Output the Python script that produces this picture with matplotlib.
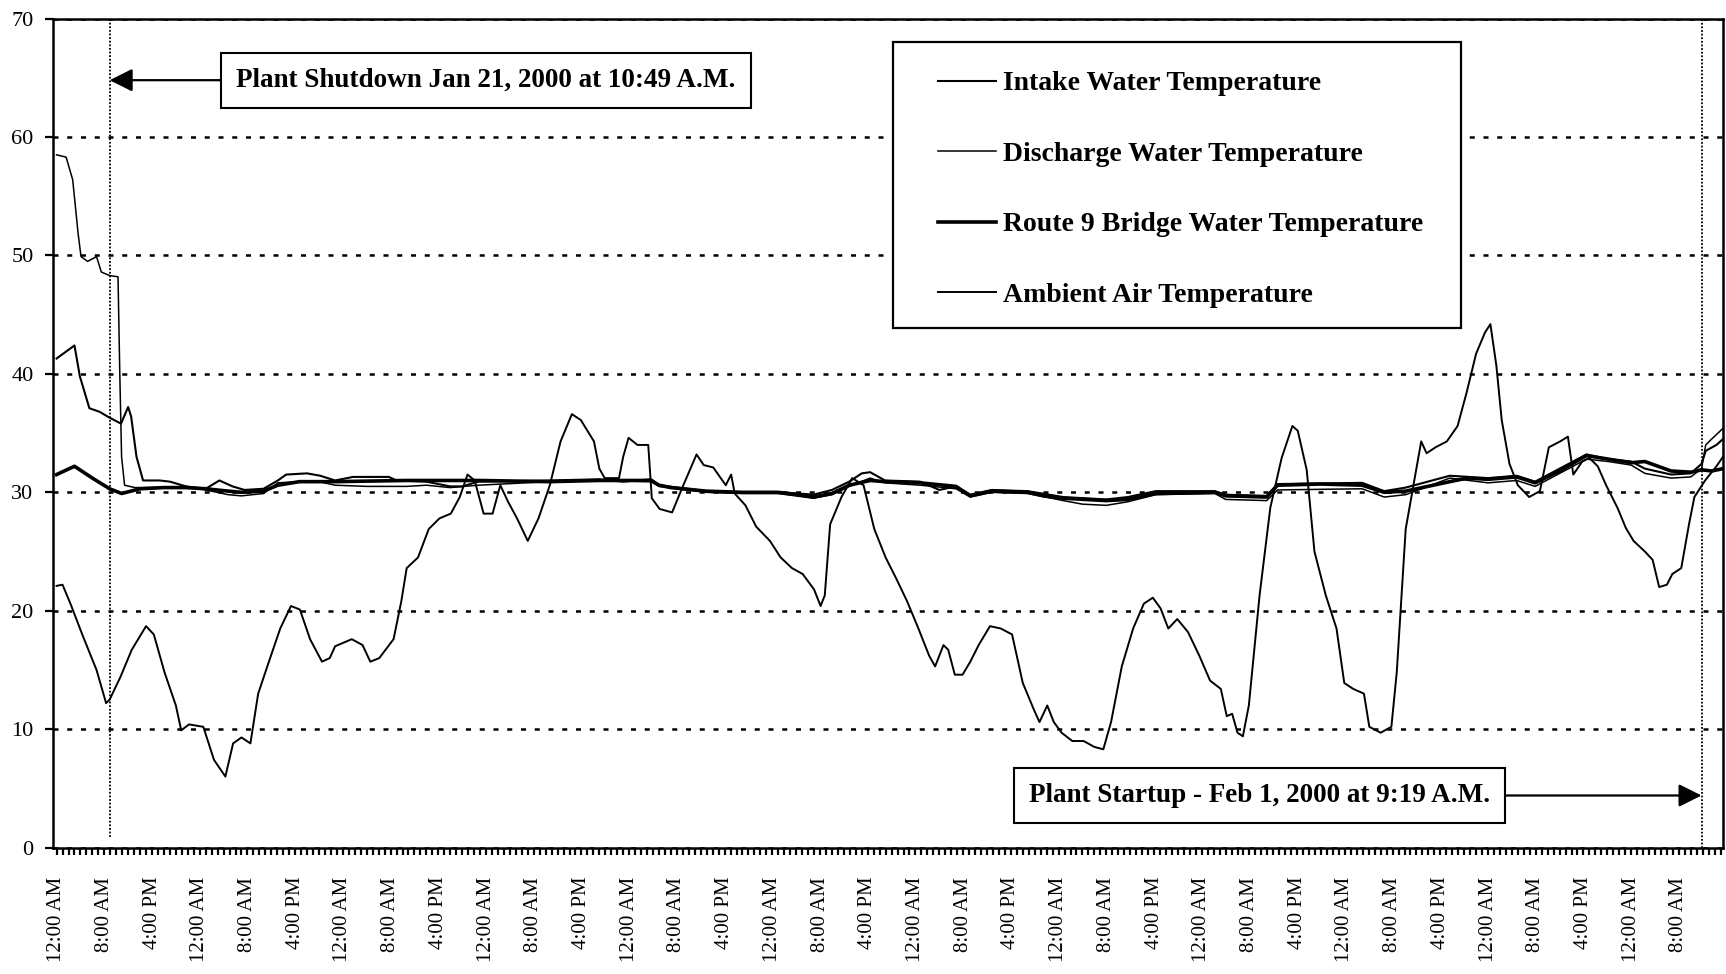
import matplotlib
matplotlib.use("Agg")
import matplotlib.pyplot as plt
from matplotlib.ticker import MultipleLocator
from matplotlib.patches import Rectangle

plt.rcParams['font.family'] = ['Liberation Serif', 'DejaVu Serif']

# hours since 12:00 AM Jan 21, 2000 and temperatures
intake_h = [0, 3.0, 3.9, 5.5, 7.2, 8.9, 10.8, 12.0, 12.5, 13.4,
            14.5, 17.3, 19, 21.7, 25, 27.3, 29.5, 31.5, 34.7, 37.1,
            38.5, 42, 44.2, 46.7, 49.7, 55.7, 57, 62, 66, 68,
            70.7, 82.6, 91, 95, 99.7, 101, 108.9, 114.9, 120.9, 124.5,
            126.9, 130, 132.9, 135, 136.4, 138.9, 144.8, 148, 150.8, 153.2,
            156.8, 162.8, 168.8, 176, 179.6, 184.3, 194.2, 196, 202.9, 204.7,
            218.9, 222.6, 226.2, 233.6, 240, 244.8, 247.9, 256.5, 260.2, 264,
            266.3, 270.7, 274, 275.8, 276.5, 278.3, 279.4]
intake_t = [41.3, 42.4, 39.8, 37.1, 36.8, 36.3, 35.8, 37.2, 36.4, 33.0,
            31.0, 31.0, 30.9, 30.5, 30.3, 31.0, 30.5, 30.2, 30.3, 31.0,
            31.5, 31.6, 31.4, 31.0, 31.3, 31.3, 31.0, 30.9, 30.5, 30.5,
            30.9, 31.0, 31.1, 30.9, 31.1, 30.6, 30.1, 30.0, 30.0, 29.9,
            29.8, 30.2, 30.9, 31.6, 31.7, 31.0, 30.9, 30.2, 30.5, 29.8,
            30.2, 30.1, 29.6, 29.4, 29.6, 30.1, 30.1, 29.8, 29.7, 30.7,
            30.8, 30.1, 30.4, 31.4, 31.2, 31.4, 30.9, 33.2, 32.8, 32.6,
            32.0, 31.5, 31.6, 32.4, 33.5, 34.0, 34.5]

discharge_h = [0, 1.6, 2.7, 3.6, 4.1, 5.2, 6.7, 7.5, 8.9, 10.3,
               10.6, 10.9, 11.4, 13.1, 18, 21.6, 25, 28.8, 31, 34.7,
               37.1, 40.7, 44, 46.7, 52, 58.7, 62, 66, 70.7, 82.6,
               91, 99.7, 101, 108.9, 114.9, 120.9, 126.9, 130, 132.9, 136.4,
               138.9, 144.8, 150.8, 153.2, 156.8, 162.8, 168.8, 172, 176, 179.6,
               184.3, 194.2, 196, 202.9, 204.7, 218.9, 222.6, 226.2, 233.6, 240,
               244.8, 247.9, 256.5, 260.2, 264, 266.3, 270.7, 274, 275.8, 276.5,
               277.5, 279.4]
discharge_t = [58.5, 58.3, 56.4, 51.9, 49.9, 49.5, 49.9, 48.6, 48.3, 48.2,
               40.0, 33.0, 30.6, 30.4, 30.4, 30.5, 30.2, 29.8, 29.7, 29.9,
               30.8, 30.9, 30.9, 30.6, 30.5, 30.5, 30.6, 30.4, 30.6, 30.9,
               31.0, 30.9, 30.5, 30.0, 29.9, 29.9, 29.5, 29.8, 30.5, 31.2,
               30.8, 30.6, 30.3, 29.6, 30.0, 29.9, 29.3, 29.0, 28.9, 29.2,
               29.8, 29.9, 29.4, 29.3, 30.2, 30.3, 29.6, 29.8, 31.2, 30.8,
               31.0, 30.5, 32.8, 32.6, 32.3, 31.6, 31.2, 31.3, 32.0, 34.0,
               34.5, 35.4]

route9_h = [0, 3.0, 6.0, 8.9, 10.9, 14, 18, 21.6, 25, 28.8,
            31, 34.7, 37.1, 40.7, 46.7, 58.7, 70.7, 82.6, 91, 99.7,
            101, 103, 108.9, 114.9, 120.9, 124.5, 126.9, 130, 132.9, 136.4,
            138.9, 144.8, 150.8, 153.2, 156.8, 162.8, 165.5, 168.8, 176, 179.6,
            184.3, 194.2, 196, 202.9, 204.7, 212, 218.9, 222.6, 226.2, 233.6,
            236.5, 240, 244.8, 247.9, 252, 256.5, 260.2, 264, 266.3, 270.7,
            274, 275.8, 277.5, 279.4]
route9_t = [31.5, 32.2, 31.2, 30.3, 29.9, 30.3, 30.4, 30.4, 30.3, 30.1,
            30.0, 30.1, 30.6, 30.9, 30.9, 31.0, 31.0, 30.9, 31.0, 31.0,
            30.6, 30.4, 30.1, 30.0, 30.0, 29.8, 29.6, 29.9, 30.6, 31.0,
            30.9, 30.8, 30.5, 29.7, 30.1, 30.0, 29.7, 29.5, 29.3, 29.4,
            29.9, 30.0, 29.7, 29.6, 30.6, 30.7, 30.6, 30.0, 30.1, 30.9,
            31.2, 31.1, 31.3, 30.8, 31.8, 33.1, 32.8, 32.5, 32.6, 31.8,
            31.7, 31.9, 31.8, 32.0]

ambient_h = [0, 1.0, 2.4, 4.3, 6.7, 8.3, 8.9, 10.7, 12.6, 15.0,
             16.3, 18.1, 20.0, 20.9, 22.2, 24.6, 26.4, 28.3, 29.6, 31.0,
             32.5, 33.8, 35.6, 37.5, 39.3, 40.8, 42.5, 44.5, 45.8, 46.7,
             49.5, 51.3, 52.6, 54.1, 56.5, 57.8, 58.7, 60.6, 62.4, 64.2,
             66.1, 67.6, 68.9, 70.1, 71.6, 73.1, 74.4, 75.7, 77.2, 79.0,
             80.8, 82.7, 84.5, 86.4, 87.9, 90.1, 91.0, 91.9, 94.3, 95.0,
             95.9, 97.4, 99.2, 99.8, 101.1, 103.2, 105.0, 107.3, 108.5, 110.1,
             112.2, 113.1, 113.7, 115.5, 117.3, 119.6, 121.4, 123.3, 125.1, 127.0,
             128.1, 128.8, 129.7, 131.6, 133.4, 135.3, 137.1, 139.0, 140.8, 142.6,
             144.5, 146.3, 147.3, 148.7, 149.5, 150.6, 151.9, 153.2, 154.6, 156.5,
             158.3, 160.2, 162.0, 163.9, 164.8, 166.1, 167.2, 168.5, 170.3, 172.2,
             174.0, 175.5, 176.8, 178.6, 180.5, 182.3, 183.8, 185.1, 186.4, 187.9,
             189.7, 191.6, 193.4, 195.2, 196.2, 197.1, 198.0, 198.9, 199.9, 201.7,
             203.5, 205.4, 207.2, 208.1, 209.6, 210.9, 212.8, 214.6, 215.9, 217.4,
             219.2, 220.1, 222.0, 223.8, 224.7, 226.2, 227.5, 228.8, 229.7, 231.2,
             233.1, 234.9, 236.4, 238.0, 239.5, 240.4, 241.4, 242.3, 243.6, 245.0,
             246.9, 248.7, 250.2, 252.1, 253.4, 254.3, 255.8, 257.0, 258.4, 259.8,
             261.7, 263.1, 264.4, 266.3, 267.6, 268.7, 270.0, 270.9, 272.4, 273.7,
             274.6, 276.4, 278.3, 279.4]
ambient_t = [22.1, 22.2, 20.5, 18.0, 15.0, 12.2, 12.5, 14.4, 16.7, 18.7,
             18.0, 14.8, 12.0, 9.9, 10.4, 10.2, 7.4, 6.0, 8.8, 9.3,
             8.8, 13.0, 15.7, 18.5, 20.4, 20.1, 17.6, 15.7, 16.0, 17.0,
             17.6, 17.1, 15.7, 16.0, 17.6, 20.8, 23.6, 24.5, 26.9, 27.8,
             28.2, 29.6, 31.5, 31.0, 28.2, 28.2, 30.6, 29.2, 27.8, 25.9,
             27.8, 30.6, 34.3, 36.6, 36.1, 34.3, 32.0, 31.2, 31.2, 33.0,
             34.6, 34.0, 34.0, 29.5, 28.6, 28.3, 30.5, 33.2, 32.3, 32.1,
             30.6, 31.5, 29.9, 28.9, 27.1, 25.9, 24.5, 23.6, 23.1, 21.8,
             20.4, 21.3, 27.3, 29.6, 31.2, 30.6, 26.9, 24.5, 22.7, 20.8,
             18.5, 16.2, 15.3, 17.1, 16.7, 14.6, 14.6, 15.7, 17.1, 18.7,
             18.5, 18.0, 13.9, 11.6, 10.6, 12.0, 10.6, 9.7, 9.0, 9.0,
             8.5, 8.3, 10.6, 15.3, 18.5, 20.6, 21.1, 20.2, 18.5, 19.3,
             18.2, 16.2, 14.1, 13.4, 11.1, 11.3, 9.7, 9.4, 12.0, 21.3,
             28.7, 32.9, 35.6, 35.2, 31.9, 25.0, 21.3, 18.5, 13.9, 13.4,
             13.0, 10.2, 9.7, 10.2, 14.8, 26.9, 30.6, 34.3, 33.3, 33.8,
             34.3, 35.6, 38.4, 41.7, 43.5, 44.2, 40.7, 36.1, 32.4, 30.6,
             29.6, 30.1, 33.8, 34.3, 34.7, 31.5, 32.6, 32.9, 32.2, 30.6,
             28.7, 27.0, 25.9, 25.0, 24.3, 22.0, 22.2, 23.1, 23.6, 27.3,
             29.6, 31.0, 32.2, 33.0]

tick_cycle = ["12:00 AM", "8:00 AM", "4:00 PM"]
tick_hours = list(range(0, 273, 8))
tick_labels = [tick_cycle[i % 3] for i in range(len(tick_hours))]

shutdown_h = 8.9
startup_h = 275.8

fig = plt.figure(figsize=(17.26, 9.74), dpi=100)
ax = fig.add_axes([53 / 1726, 126.4 / 974, 1670 / 1726, 829 / 974])

ax.plot(intake_h, intake_t, color="black", lw=1.5, label="Intake Water Temperature", zorder=3)
ax.plot(discharge_h, discharge_t, color="black", lw=1.1, label="Discharge Water Temperature", zorder=3)
ax.plot(route9_h, route9_t, color="black", lw=2.6, label="Route 9 Bridge Water Temperature", zorder=3)
ax.plot(ambient_h, ambient_t, color="black", lw=1.4, label="Ambient Air Temperature", zorder=3)

ax.axvline(shutdown_h, ymin=0.013, ymax=1, color="black", lw=1.3, ls=(0, (1, 1)))
ax.axvline(startup_h, color="black", lw=1.3, ls=(0, (1, 1)))

ax.set_xlim(-0.6, 279.4)
ax.set_ylim(0, 70)
ax.set_yticks(range(0, 71, 10))
ax.set_xticks(tick_hours)
ax.set_xticklabels(tick_labels, rotation=90, fontsize=15)
ax.xaxis.set_minor_locator(MultipleLocator(1))
ax.tick_params(axis="x", which="both", direction="out", length=5, width=1.6, pad=16)
ax.tick_params(axis="y", direction="out", length=6, width=1.6, labelsize=16, pad=8)

ax.yaxis.grid(True, color="black", lw=1.8, ls=(0, (2, 3.5)))
ax.set_axisbelow(True)
for s in ax.spines.values():
    s.set_linewidth(1.8)

# legend box
ax.add_patch(Rectangle((893 / 1726, 1 - 328 / 974), 568 / 1726, 286 / 974,
                       transform=fig.transFigure, facecolor="white", edgecolor="black",
                       lw=1.6, zorder=5, clip_on=False))
leg = ax.legend(loc="upper left", bbox_to_anchor=(938 / 1726, 1 - 71 / 974),
                bbox_transform=fig.transFigure, frameon=False, borderpad=0,
                borderaxespad=0, handlelength=2.1, handletextpad=0.25,
                labelspacing=1.62, prop={"size": 20, "weight": "bold"})
leg.set_zorder(6)

box = dict(boxstyle="square,pad=0.55", facecolor="white", edgecolor="black", lw=1.5)
arrow = dict(arrowstyle="-|>,head_length=1.0,head_width=0.5", mutation_scale=14,
             color="black", lw=1.6, shrinkA=0, shrinkB=0)

ax.annotate("Plant Shutdown Jan 21, 2000 at 10:49 A.M.", xy=(shutdown_h, 64.8),
            xytext=(72.0, 64.8), fontsize=19.5, fontweight="bold", ha="center", va="center",
            bbox=box, arrowprops=dict(arrow, relpos=(0, 0.5)), zorder=7)

ax.annotate("Plant Startup - Feb 1, 2000 at 9:19 A.M.", xy=(startup_h, 4.4),
            xytext=(201.7, 4.4), fontsize=19.5, fontweight="bold", ha="center", va="center",
            bbox=box, arrowprops=dict(arrow, relpos=(1, 0.5)), zorder=7)

fig.savefig("out.png", dpi=100)
